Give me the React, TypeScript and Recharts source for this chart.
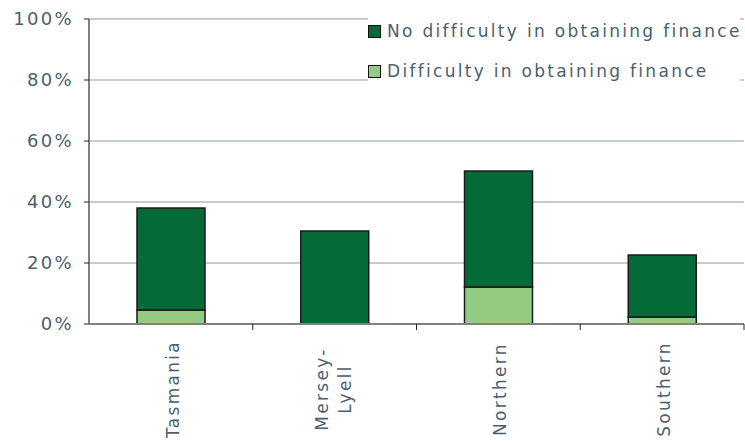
import React from "react";
import { BarChart, Bar, XAxis, YAxis, CartesianGrid } from "recharts";

const categories = ["Tasmania", "Mersey-\nLyell", "Northern", "Southern"];
const difficulty = [0.046, 0, 0.121, 0.023];
const noDifficulty = [0.334, 0.305, 0.381, 0.203];
const yTicks = [0, 0.2, 0.4, 0.6, 0.8, 1];
const seriesNames = ["No difficulty in obtaining finance", "Difficulty in obtaining finance"];
const seriesColors = ["#036a38", "#93cb82"];

const data = categories.map((c, i) => ({
  name: c,
  difficulty: difficulty[i],
  noDifficulty: noDifficulty[i],
}));

const W = 745;
const H = 441;
const YAXIS_W = 89;
const MARGIN = { top: 19, right: 1, bottom: 0, left: 0 };
const PLOT_W = W - YAXIS_W - MARGIN.left - MARGIN.right;
const TEXT = "#4a6070";
const FONT = "'DejaVu Sans', Verdana, sans-serif";

const XTick = (props: any) => {
  const { x, y, payload } = props;
  const band = PLOT_W / categories.length;
  const lines = String(payload.value).split("\n");
  const offsets = lines.length === 1 ? [2] : [-13, 10];
  return (
    <g>
      <line x1={x + band / 2} x2={x + band / 2} y1={y} y2={y + 6} stroke="#222" strokeWidth={1} />
      {lines.map((l, i) => (
        <text
          key={i}
          transform={`translate(${x + offsets[i]}, ${y + 65}) rotate(-90)`}
          textAnchor="middle"
          dy="0.35em"
          fontSize={17}
          letterSpacing={2.3}
          fill={TEXT}
          fontFamily={FONT}
        >
          {l}
        </text>
      ))}
    </g>
  );
};

const LegendBox = () => (
  <div
    style={{
      position: "absolute",
      left: 368,
      top: 15,
      background: "#fff",
      width: 372,
      height: 74,
    }}
  >
    {seriesNames.map((n, i) => (
      <div
        key={n}
        style={{ position: "absolute", left: 0, top: 10 + i * 40, height: 13, display: "flex", alignItems: "center" }}
      >
        <div
          style={{
            width: 11,
            height: 11,
            background: seriesColors[i],
            border: "1px solid #111",
            marginRight: 6,
            flex: "none",
          }}
        />
        <span
          style={{
            fontFamily: FONT,
            fontSize: 17,
            letterSpacing: 2.3,
            color: TEXT,
            whiteSpace: "nowrap",
            lineHeight: "13px",
          }}
        >
          {n}
        </span>
      </div>
    ))}
  </div>
);

export default function App() {
  return (
    <div style={{ position: "absolute", left: 0, top: 0, width: W, height: H, background: "#fff" }}>
      <BarChart width={W} height={H} data={data} margin={MARGIN} barSize={68}>
        <CartesianGrid vertical={false} stroke="#8b9aa2" strokeWidth={1} />
        <XAxis
          dataKey="name"
          height={117}
          interval={0}
          tickLine={false}
          tickSize={0}
          tickMargin={0}
          axisLine={{ stroke: "#808080", strokeWidth: 2 }}
          tick={<XTick />}
        />
        <YAxis
          width={YAXIS_W}
          domain={[0, 1]}
          ticks={yTicks}
          interval={0}
          tickFormatter={(v: number) => `${Math.round(v * 100)}%`}
          axisLine={{ stroke: "#808080", strokeWidth: 2 }}
          tickLine={{ stroke: "#222" }}
          tickSize={5}
          tickMargin={10}
          tick={{ fill: TEXT, fontSize: 18, fontFamily: FONT, letterSpacing: 2.3 }}
        />
        <Bar
          dataKey="difficulty"
          stackId="a"
          fill={seriesColors[1]}
          stroke="#1a1a1a"
          strokeWidth={1.5}
          isAnimationActive={false}
        />
        <Bar
          dataKey="noDifficulty"
          stackId="a"
          fill={seriesColors[0]}
          stroke="#1a1a1a"
          strokeWidth={1.5}
          isAnimationActive={false}
        />
      </BarChart>
      <LegendBox />
    </div>
  );
}
